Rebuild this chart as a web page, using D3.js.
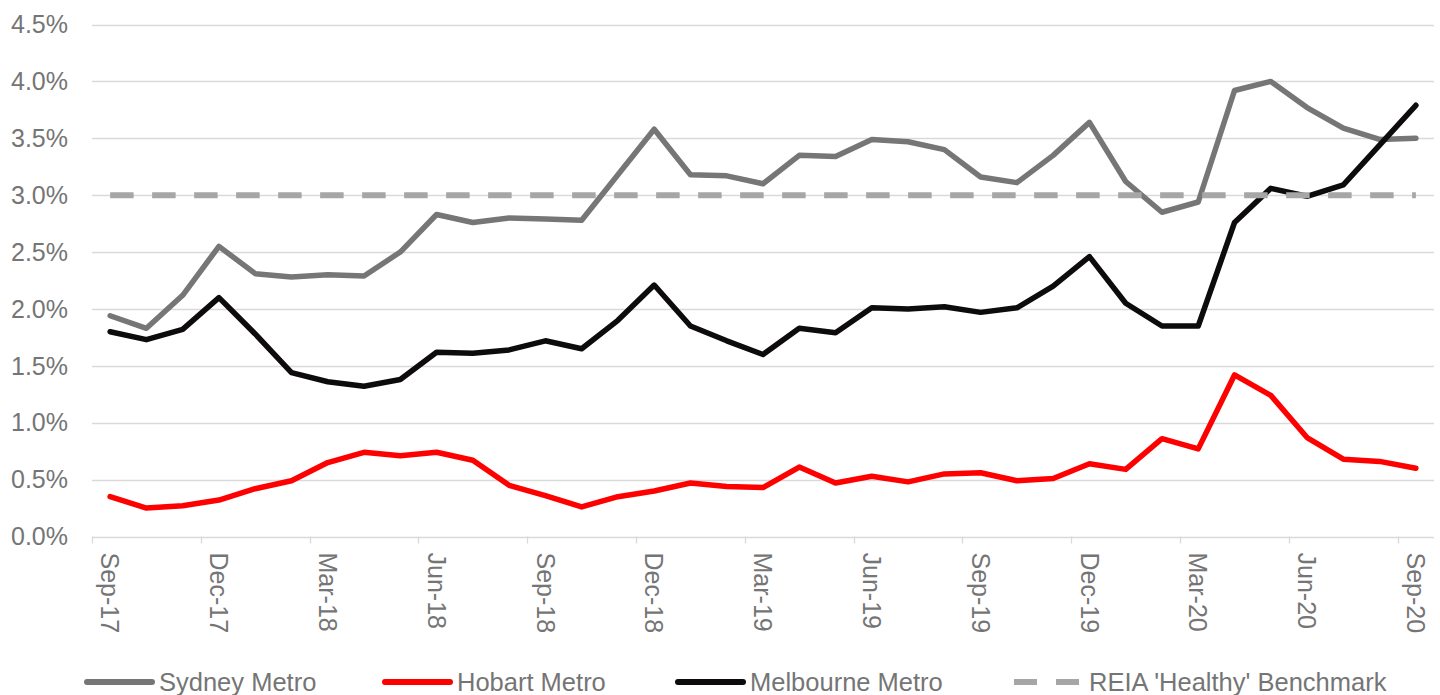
<!DOCTYPE html>
<html>
<head>
<meta charset="utf-8">
<script src="https://cdn.jsdelivr.net/npm/d3@7"></script>
<style>
  body { margin: 0; background: #fff; }
  svg { display: block; font-family: "Liberation Sans", Arial, sans-serif; }
</style>
</head>
<body>
<svg width="1440" height="695"></svg>
<script>
// Data
let months = ["Sep-17","Oct-17","Nov-17","Dec-17","Jan-18","Feb-18","Mar-18","Apr-18","May-18","Jun-18",
  "Jul-18","Aug-18","Sep-18","Oct-18","Nov-18","Dec-18","Jan-19","Feb-19","Mar-19","Apr-19",
  "May-19","Jun-19","Jul-19","Aug-19","Sep-19","Oct-19","Nov-19","Dec-19","Jan-20","Feb-20",
  "Mar-20","Apr-20","May-20","Jun-20","Jul-20","Aug-20","Sep-20"];

let sydney = [1.94,1.83,2.12,2.55,2.31,2.28,2.30,2.29,2.50,2.83,
  2.76,2.80,2.79,2.78,3.18,3.58,3.18,3.17,3.10,3.35,
  3.34,3.49,3.47,3.40,3.16,3.11,3.35,3.64,3.12,2.85,
  2.94,3.92,4.00,3.77,3.59,3.49,3.50];

let hobart = [0.35,0.25,0.27,0.32,0.42,0.49,0.65,0.74,0.71,0.74,
  0.67,0.45,0.36,0.26,0.35,0.40,0.47,0.44,0.43,0.61,
  0.47,0.53,0.48,0.55,0.56,0.49,0.51,0.64,0.59,0.86,
  0.77,1.42,1.24,0.87,0.68,0.66,0.60];

let melbourne = [1.80,1.73,1.82,2.10,1.78,1.44,1.36,1.32,1.38,1.62,
  1.61,1.64,1.72,1.65,1.90,2.21,1.85,1.72,1.60,1.83,
  1.79,2.01,2.00,2.02,1.97,2.01,2.20,2.46,2.05,1.85,
  1.85,2.76,3.06,2.99,3.09,3.44,3.79];

let benchmark = [3.0,3.0,3.0,3.0,3.0,3.0,3.0,3.0,3.0,3.0,
  3.0,3.0,3.0,3.0,3.0,3.0,3.0,3.0,3.0,3.0,
  3.0,3.0,3.0,3.0,3.0,3.0,3.0,3.0,3.0,3.0,
  3.0,3.0,3.0,3.0,3.0,3.0,3.0];

let yTicks = [0, 0.5, 1.0, 1.5, 2.0, 2.5, 3.0, 3.5, 4.0, 4.5];

let series = [
  { name: "Sydney Metro", values: sydney, color: "#767676", dash: null },
  { name: "Hobart Metro", values: hobart, color: "#ff0000", dash: null },
  { name: "Melbourne Metro", values: melbourne, color: "#0d0b0b", dash: null },
  { name: "REIA 'Healthy' Benchmark", values: benchmark, color: "#a6a6a6", dash: "23.5,18.5" }
];

let svg = d3.select("svg");
let textColor = "#757575";
let gridColor = "#d9d9d9";

let plotLeft = 92, plotRight = 1434, plotTop = 24.5, plotBottom = 536.5;

let x = d3.scaleBand().domain(months).range([plotLeft, plotRight]).padding(0);
let y = d3.scaleLinear().domain([0, 4.5]).range([plotBottom, plotTop]);
let cx = d => x(d) + x.bandwidth() / 2;

// Gridlines
svg.append("g")
  .selectAll("line")
  .data(yTicks)
  .enter()
  .append("line")
  .attr("x1", plotLeft)
  .attr("x2", plotRight)
  .attr("y1", d => Math.round(y(d)) + 0.5)
  .attr("y2", d => Math.round(y(d)) + 0.5)
  .attr("stroke", gridColor)
  .attr("stroke-width", 1.3);

// Y labels
svg.append("g")
  .selectAll("text")
  .data(yTicks)
  .enter()
  .append("text")
  .attr("x", 68)
  .attr("y", d => y(d))
  .attr("dy", "0.35em")
  .attr("text-anchor", "end")
  .attr("fill", textColor)
  .style("font-size", "25px")
  .text(d => d.toFixed(1) + "%");

// X axis ticks (every 3rd category, at category edge)
let tickMonths = months.filter((d, i) => i % 3 === 0);
svg.append("g")
  .selectAll("line")
  .data(tickMonths)
  .enter()
  .append("line")
  .attr("x1", d => Math.round(x(d)) + 0.5)
  .attr("x2", d => Math.round(x(d)) + 0.5)
  .attr("y1", plotBottom)
  .attr("y2", plotBottom + 7)
  .attr("stroke", gridColor)
  .attr("stroke-width", 1.3);

// X labels, rotated
svg.append("g")
  .selectAll("text")
  .data(tickMonths)
  .enter()
  .append("text")
  .attr("transform", d => "translate(" + cx(d) + "," + (plotBottom + 16) + ")rotate(90)")
  .attr("dy", "0.35em")
  .attr("text-anchor", "start")
  .attr("fill", textColor)
  .style("font-size", "25px")
  .text(d => d);

// Lines
let line = d3.line()
  .x((d, i) => cx(months[i]))
  .y(d => y(d));

svg.append("g")
  .selectAll("path")
  .data(series)
  .enter()
  .append("path")
  .attr("d", d => line(d.values))
  .attr("fill", "none")
  .attr("stroke", d => d.color)
  .attr("stroke-width", d => d.dash ? 6 : 5.5)
  .attr("stroke-dasharray", d => d.dash)
  .attr("stroke-linejoin", "round")
  .attr("stroke-linecap", d => d.dash ? "butt" : "round");

// Legend
let legend = svg.append("g");
let legendX = [85, 383, 676, 1014];
let ly = 682;
series.forEach(function(s, i) {
  let lx = legendX[i];
  if (s.dash) {
    legend.append("line")
      .attr("x1", lx).attr("x2", lx + 23)
      .attr("y1", ly).attr("y2", ly)
      .attr("stroke", s.color).attr("stroke-width", 6);
    legend.append("line")
      .attr("x1", lx + 42).attr("x2", lx + 65)
      .attr("y1", ly).attr("y2", ly)
      .attr("stroke", s.color).attr("stroke-width", 6);
    lx += 75;
  } else {
    legend.append("line")
      .attr("x1", lx + 2).attr("x2", lx + 67)
      .attr("y1", ly).attr("y2", ly)
      .attr("stroke", s.color).attr("stroke-width", 6)
      .attr("stroke-linecap", "round");
    lx += 74;
  }
  legend.append("text")
    .attr("x", lx)
    .attr("y", ly)
    .attr("dy", "0.35em")
    .attr("fill", textColor)
    .style("font-size", "25.5px")
    .text(s.name);
});
</script>
</body>
</html>
